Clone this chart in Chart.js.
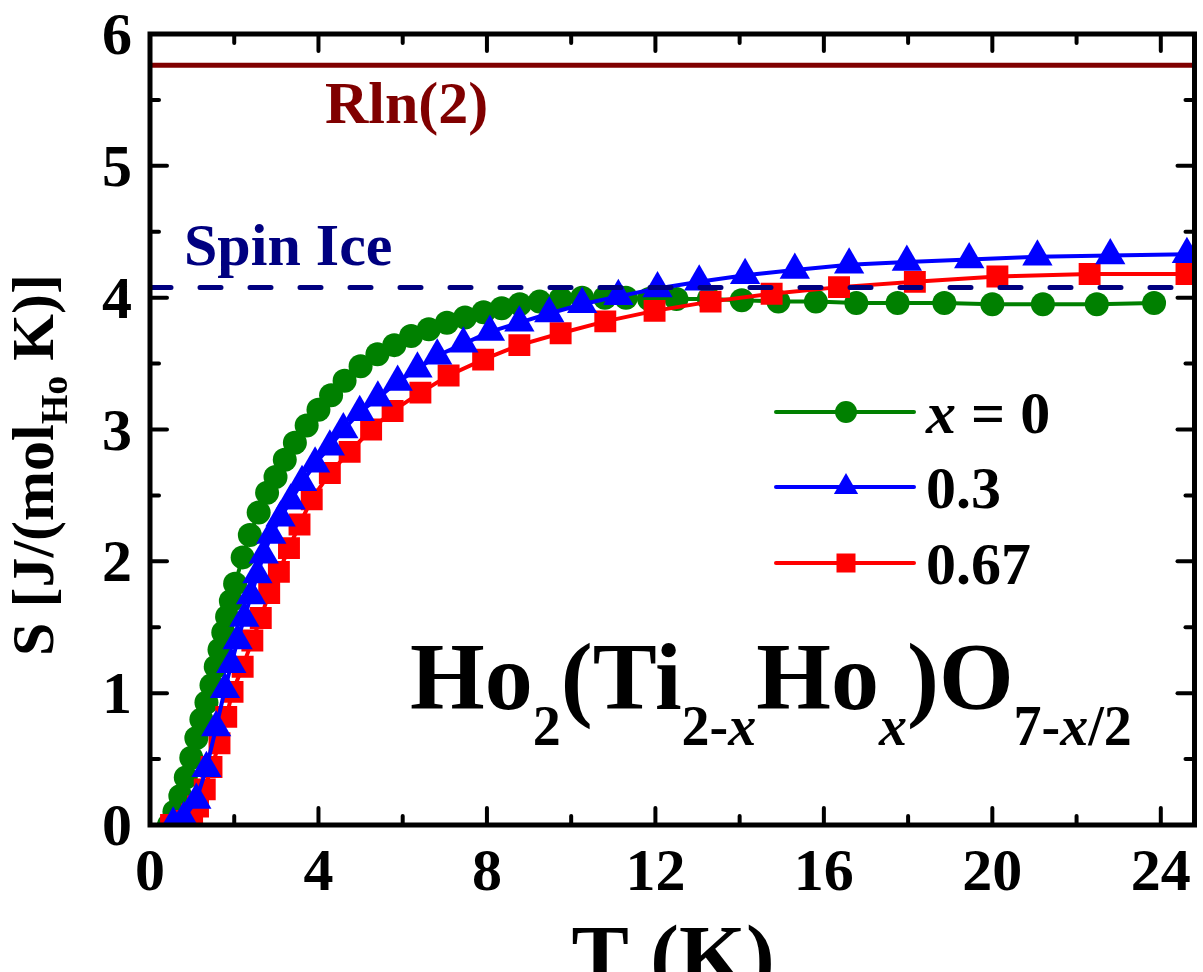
<!DOCTYPE html>
<html>
<head>
<meta charset="utf-8">
<script src="https://cdn.jsdelivr.net/npm/chart.js@4.4.0/dist/chart.umd.min.js"></script>
<style>
  html, body { margin: 0; padding: 0; overflow: hidden; background: #fff; }
  #wrap { width: 1203px; height: 972px; overflow: hidden; position: relative; }
  canvas { display: block; }
</style>
</head>
<body>
<div id="wrap"><canvas id="entropyChart" width="1212" height="972"></canvas></div>
<script>
// ---------------------------
//  DATOS: S(T) por serie
// ---------------------------
const tX0 = [0.45,0.58,0.72,0.85,0.98,1.1,1.22,1.34,1.46,1.56,1.65,1.74,1.83,1.92,2.02,2.2,2.37,2.58,2.78,2.98,3.2,3.44,3.72,4.0,4.3,4.62,5.0,5.4,5.8,6.2,6.62,7.05,7.48,7.92,8.35,8.78,9.25,9.75,10.26,10.8,11.3,11.85,12.5,13.27,14.05,14.92,15.81,16.77,17.75,18.86,20.0,21.2,22.48,23.84];
const sX0 = [0.0,0.1,0.22,0.36,0.51,0.66,0.8,0.93,1.06,1.2,1.33,1.46,1.58,1.7,1.83,2.03,2.2,2.37,2.52,2.64,2.77,2.9,3.03,3.15,3.26,3.37,3.48,3.57,3.64,3.71,3.76,3.81,3.85,3.89,3.92,3.95,3.97,3.99,4.0,4.0,4.0,3.99,3.99,3.99,3.98,3.97,3.97,3.96,3.96,3.96,3.95,3.95,3.95,3.96];

const tX03 = [0.55,0.8,1.1,1.34,1.57,1.78,1.93,2.08,2.24,2.4,2.55,2.7,2.88,3.1,3.34,3.61,3.92,4.27,4.59,4.98,5.41,5.88,6.35,6.82,7.44,8.07,8.77,9.48,10.26,11.12,12.05,13.04,14.13,15.31,16.6,17.97,19.45,21.07,22.8,24.62];
const sX03 = [0.01,0.05,0.19,0.43,0.74,1.03,1.22,1.4,1.57,1.74,1.9,2.05,2.2,2.33,2.46,2.6,2.74,2.87,3.0,3.13,3.24,3.36,3.46,3.56,3.65,3.74,3.81,3.88,3.95,4.01,4.07,4.12,4.17,4.21,4.25,4.27,4.29,4.31,4.32,4.33];

const tX067 = [0.5,0.8,1.0,1.14,1.3,1.46,1.65,1.81,1.96,2.2,2.43,2.63,2.83,3.06,3.3,3.55,3.84,4.27,4.74,5.25,5.76,6.42,7.09,7.91,8.77,9.75,10.81,11.98,13.31,14.76,16.36,18.16,20.12,22.31,24.61];
const sX067 = [0.0,0.03,0.08,0.14,0.27,0.44,0.62,0.82,1.01,1.2,1.4,1.57,1.76,1.92,2.1,2.28,2.47,2.67,2.83,3.0,3.14,3.28,3.41,3.53,3.64,3.73,3.82,3.9,3.97,4.03,4.08,4.12,4.16,4.18,4.18];

// niveles de referencia
const RLN2 = 5.763;      // R ln 2
const SPIN_ICE = 4.077;  // R ln2 - (R/2) ln(3/2)

// ejes
const X_MIN = 0, X_MAX = 24.8;
const Y_MIN = 0, Y_MAX = 6;
const xTicks = [0, 4, 8, 12, 16, 20, 24];
const xMinorTicks = [2, 6, 10, 14, 18, 22];
const yTicks = [0, 1, 2, 3, 4, 5, 6];
const yMinorTicks = [0.5, 1.5, 2.5, 3.5, 4.5, 5.5];

const GREEN = "#008000", BLUE = "#0000ff", RED = "#ff0000";
const NAVY = "#000080", MAROON = "#800000";
const SERIF = '"Liberation Serif", "Times New Roman", serif';

function f(size, italic) {
  return (italic ? "italic " : "") + "bold " + size + "px " + SERIF;
}

function toPoints(ts, ss) {
  return ts.map((t, i) => ({ x: t, y: ss[i] }));
}

// dibuja una secuencia de trozos de texto (para subíndices / cursivas)
function drawRuns(ctx, runs, x, y) {
  runs.forEach(r => {
    ctx.font = r.font;
    ctx.fillText(r.t, x, y + (r.dy || 0));
    x += ctx.measureText(r.t).width;
  });
  return x;
}

function runsWidth(ctx, runs) {
  let w = 0;
  runs.forEach(r => { ctx.font = r.font; w += ctx.measureText(r.t).width; });
  return w;
}

function marker(ctx, style, x, y, r, color) {
  ctx.fillStyle = color;
  ctx.beginPath();
  if (style === "circle") {
    ctx.arc(x, y, r, 0, Math.PI * 2);
  } else if (style === "triangle") {
    const a = 2 * Math.PI / 3;
    ctx.moveTo(x, y - r);
    ctx.lineTo(x + Math.sin(a) * r, y - Math.cos(a) * r);
    ctx.lineTo(x + Math.sin(2 * a) * r, y - Math.cos(2 * a) * r);
    ctx.closePath();
  } else {
    ctx.rect(x - r, y - r, 2 * r, 2 * r);
  }
  ctx.fill();
}

// ---------------------------
//  MARCO, TICKS, TEXTOS, LEYENDA
// ---------------------------
const decor = {
  id: "decor",
  afterDraw(chart) {
    const { ctx, chartArea: a, scales: { x, y } } = chart;
    ctx.save();

    // ticks hacia dentro
    ctx.strokeStyle = "#000";
    ctx.lineWidth = 4;
    ctx.lineCap = "round";
    const seg = (x1, y1, x2, y2) => { ctx.beginPath(); ctx.moveTo(x1, y1); ctx.lineTo(x2, y2); ctx.stroke(); };
    xTicks.forEach(v => { const p = x.getPixelForValue(v); seg(p, a.bottom, p, a.bottom - 17); seg(p, a.top, p, a.top + 17); });
    xMinorTicks.forEach(v => { const p = x.getPixelForValue(v); seg(p, a.bottom, p, a.bottom - 9); seg(p, a.top, p, a.top + 9); });
    yTicks.forEach(v => { const p = y.getPixelForValue(v); seg(a.left, p, a.left + 17, p); seg(a.right, p, a.right - 17, p); });
    yMinorTicks.forEach(v => { const p = y.getPixelForValue(v); seg(a.left, p, a.left + 9, p); seg(a.right, p, a.right - 9, p); });

    // caja
    ctx.lineWidth = 5;
    ctx.lineCap = "butt";
    ctx.strokeRect(a.left, a.top, a.right - a.left, a.bottom - a.top);

    // números de los ejes
    ctx.fillStyle = "#000";
    ctx.font = f(60);
    ctx.textBaseline = "alphabetic";
    ctx.textAlign = "center";
    xTicks.forEach(v => ctx.fillText(String(v), x.getPixelForValue(v), a.bottom + 65));
    ctx.textAlign = "right";
    yTicks.forEach(v => ctx.fillText(String(v), a.left - 18, y.getPixelForValue(v) + 20));

    ctx.textAlign = "left";

    // etiquetas de las líneas de referencia
    ctx.fillStyle = MAROON;
    ctx.font = f(60);
    ctx.fillText("Rln(2)", 325, 123);
    ctx.fillStyle = NAVY;
    ctx.fillText("Spin Ice", 184, 265);

    // fórmula
    ctx.fillStyle = "#000";
    const big = f(96), sub = f(56), subI = f(56, true);
    const d = 36;
    drawRuns(ctx, [
      { t: "Ho", font: big },
      { t: "2", font: sub, dy: d },
      { t: "(Ti", font: big },
      { t: "2-", font: sub, dy: d },
      { t: "x", font: subI, dy: d },
      { t: "Ho", font: big },
      { t: "x", font: subI, dy: d },
      { t: ")O", font: big },
      { t: "7-", font: sub, dy: d },
      { t: "x", font: subI, dy: d },
      { t: "/2", font: sub, dy: d }
    ], 410, 709);

    // leyenda
    const legend = [
      { color: GREEN, style: "circle", r: 11, runs: [{ t: "x", font: f(60, true) }, { t: " = 0", font: f(60) }] },
      { color: BLUE, style: "triangle", r: 14, runs: [{ t: "0.3", font: f(60) }] },
      { color: RED, style: "square", r: 9.5, runs: [{ t: "0.67", font: f(60) }] }
    ];
    const legendY = [412, 487, 563];
    legend.forEach((item, i) => {
      const ly = legendY[i];
      ctx.strokeStyle = item.color;
      ctx.lineWidth = 4;
      ctx.lineCap = "round";
      seg(776, ly, 914, ly);
      marker(ctx, item.style, 846, ly, item.r, item.color);
      ctx.fillStyle = "#000";
      drawRuns(ctx, item.runs, 926, ly + 21);
    });

    // título eje X
    ctx.fillStyle = "#000";
    ctx.font = f(86);
    ctx.textAlign = "center";
    ctx.fillText("T (K)", 673, 985);

    // título eje Y (rotado)
    ctx.textAlign = "left";
    const yRuns = [
      { t: "S [J/(mol", font: f(60) },
      { t: "Ho", font: f(38), dy: 14 },
      { t: " K)]", font: f(60) }
    ];
    ctx.translate(53, 465);
    ctx.rotate(-Math.PI / 2);
    const w = runsWidth(ctx, yRuns);
    drawRuns(ctx, yRuns, -w / 2, 0);

    ctx.restore();
  }
};

// ---------------------------
//  GRÁFICA
// ---------------------------
const ctx = document.getElementById("entropyChart").getContext("2d");

const series = (label, ts, ss, color, style, radius, order) => ({
  label: label,
  data: toPoints(ts, ss),
  borderColor: color,
  backgroundColor: color,
  borderWidth: 4,
  pointStyle: style,
  pointRadius: radius,
  pointBorderWidth: 0,
  pointBackgroundColor: color,
  tension: 0,
  order: order
});

const refLine = (value, color, dash, order) => ({
  label: "",
  data: [{ x: X_MIN, y: value }, { x: X_MAX, y: value }],
  borderColor: color,
  borderWidth: 5,
  borderDash: dash,
  borderCapStyle: dash.length ? "round" : "butt",
  pointRadius: 0,
  order: order
});

const hiddenTicks = { display: false };

const chart = new Chart(ctx, {
  type: "line",
  data: {
    datasets: [
      series("x = 0", tX0, sX0, GREEN, "circle", 12, 4),
      series("0.67", tX067, sX067, RED, "rect", 15.5, 3),
      series("0.3", tX03, sX03, BLUE, "triangle", 17.5, 2),
      refLine(RLN2, MAROON, [], 1),
      refLine(SPIN_ICE, NAVY, [21, 29], 0)
    ]
  },
  plugins: [decor],
  options: {
    responsive: false,
    animation: false,
    layout: { padding: { top: 34, right: 6, left: 0, bottom: 0 } },
    plugins: {
      legend: { display: false },
      tooltip: { enabled: false }
    },
    scales: {
      x: {
        type: "linear",
        min: X_MIN,
        max: X_MAX,
        grid: { display: false, drawTicks: false },
        border: { display: false },
        afterFit: s => { s.height = 147; },
        ticks: hiddenTicks
      },
      y: {
        type: "linear",
        min: Y_MIN,
        max: Y_MAX,
        grid: { display: false, drawTicks: false },
        border: { display: false },
        afterFit: s => { s.width = 150; },
        ticks: hiddenTicks
      }
    }
  }
});
</script>
</body>
</html>
